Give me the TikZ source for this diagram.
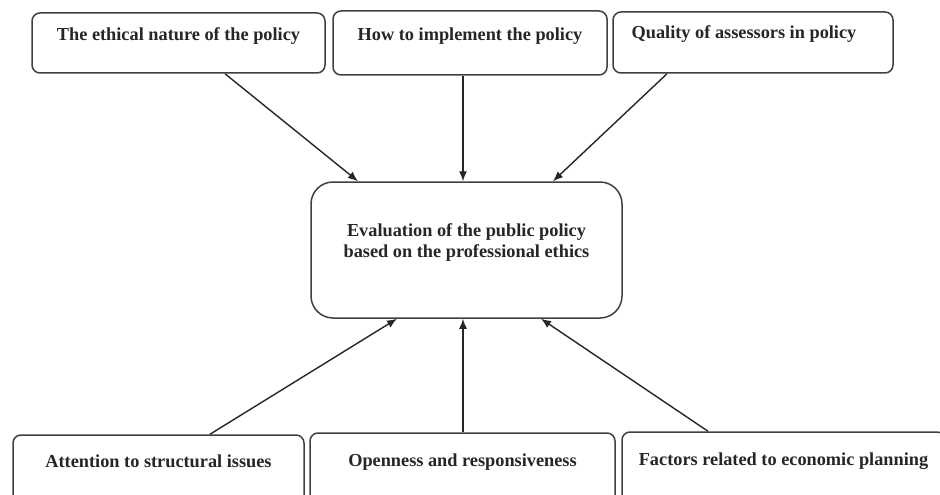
\documentclass[tikz,border=0pt]{standalone}
\usepackage{fontspec}
\setmainfont{Liberation Serif}
\usetikzlibrary{arrows.meta}
\begin{document}
\begin{tikzpicture}[x=1pt,y=-1pt,
  box/.style={draw=black!75, line width=1.5pt, rounded corners=8pt, fill=white, inner sep=0pt,
    font=\fontsize{18.3}{21}\selectfont\bfseries, text=black!85, text height=12pt},
  conn/.style={draw=black!85, line width=1.4pt, -{Latex[length=10pt,width=8pt]}}]
\clip (0,0) rectangle (940,495);
\fill[white] (0,0) rectangle (940,495);
% top boxes
\node[box, minimum width=293pt, minimum height=60pt, text depth=16pt] (a) at (178.5,43) {The ethical nature of the policy};
\node[box, minimum width=274pt, minimum height=64pt, text depth=16pt] (b) at (470,43) {How to implement the policy};
\node[box, minimum width=280pt, minimum height=61pt, text depth=20pt] (c) at (753,42.5) {Quality of assessors in policy\hspace*{18pt}};
% center
\node[box, rounded corners=22pt, minimum width=311pt, minimum height=136pt] (e) at (466.5,250) {};
\node[font=\fontsize{18.3}{21}\selectfont\bfseries, text=black!85, align=center, inner sep=0pt] (et) at (466.5,242.5) {Evaluation of the public policy\\based on the professional ethics};
% bottom boxes
\node[box, minimum width=291pt, minimum height=70pt, text depth=18pt] (d) at (158.5,470) {Attention to structural issues};
\node[box, minimum width=305pt, minimum height=72pt, text depth=18pt] (f) at (462.5,469) {Openness and responsiveness};
\node[box, minimum width=323pt, minimum height=73pt, text depth=18pt] (g) at (783.5,468.5) {Factors related to economic planning};
% connectors
\draw[conn] ([xshift=46.5pt]a.south) -- ([xshift=-108.5pt]e.north);
\draw[conn] ([xshift=-7pt]b.south) -- ([xshift=-3.5pt]e.north);
\draw[conn] ([xshift=-86pt]c.south) -- ([xshift=86.5pt]e.north);
\draw[conn] ([xshift=51.5pt]d.north) -- ([xshift=-69.5pt]e.south);
\draw[conn] ([xshift=0.5pt]f.north) -- ([xshift=-3.5pt]e.south);
\draw[conn] ([xshift=-75.5pt]g.north) -- ([xshift=74.5pt]e.south);
\end{tikzpicture}
\end{document}
